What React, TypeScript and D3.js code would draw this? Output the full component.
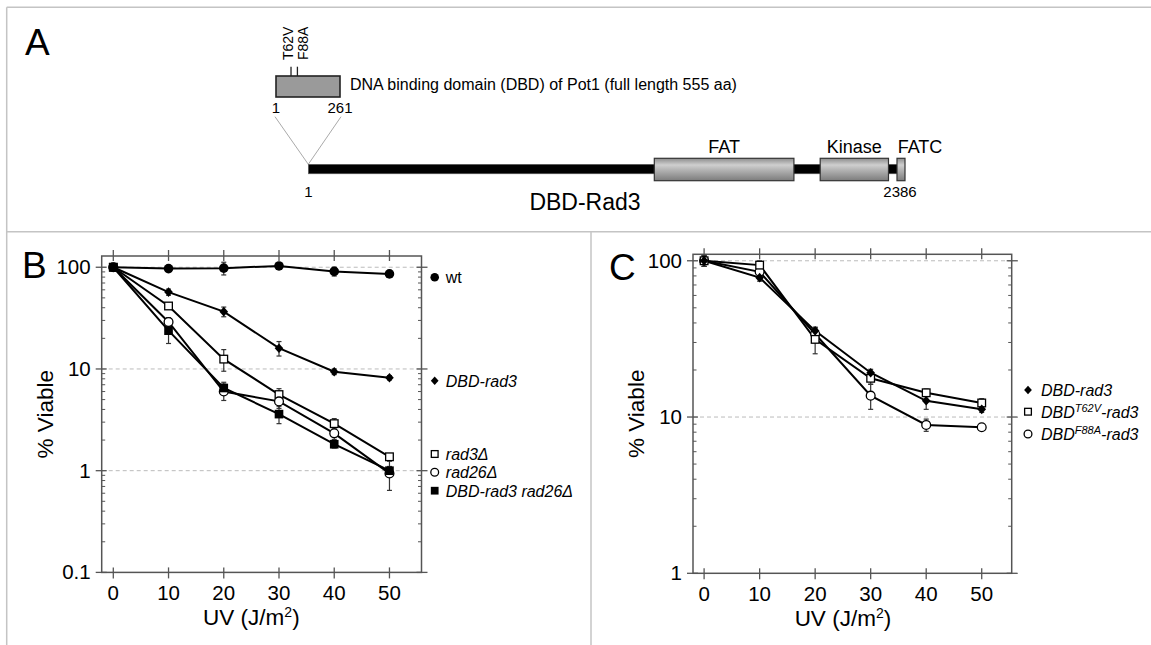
import React from 'react';
import { scaleLinear, scaleLog, line } from 'd3';

// ---- data ----
const doses = [0, 10, 20, 30, 40, 50];

// panel B
const wtB = [100, 97, 98, 103, 91, 86];
const dbdRad3B = [100, 57, 36.6, 16, 9.4, 8.2];
const rad3Del = [100, 41.6, 12.5, 5.6, 2.9, 1.37];
const rad26Del = [100, 29, 6.0, 4.8, 2.33, 0.94];
const dbdRad3Rad26 = [100, 23.8, 6.5, 3.6, 1.82, 1.0];
const wtErr = [0, 3, 14, 4, 9, 5];
const dbdRad3ErrB = [0, 4, 4, 2.6, 0.6, 0.4];
const rad3Err = [0, 3, 3, 0.8, 0.35, 0.1];
const rad26Err = [0, 3, 1.1, 0.7, 0.3, 0.3];
const dbdRad26Err = [0, 6, 0.9, 0.7, 0.15, 0.1];

// panel C
const dbdRad3C = [100, 78, 35.6, 19.2, 12.7, 11.2];
const t62vC = [100, 93.8, 31.4, 17.7, 14.3, 12.3];
const f88aC = [100, 85, 34, 13.7, 8.9, 8.6];
const dbdRad3ErrC = [8, 4, 2, 1, 1.5, 0.5];
const t62vErr = [8, 6, 6, 1.5, 0.8, 0.8];
const f88aErr = [8, 5, 3, 2.5, 0.8, 0.3];

const xTicks = [0, 10, 20, 30, 40, 50];
const yTicksB = [0.1, 1, 10, 100];
const yTicksC = [1, 10, 100];

// panel A (amino acid positions)
const dbdLength = 261;
const mutations = [{ name: 'T62V', pos: 62 }, { name: 'F88A', pos: 88 }];
const rad3Length = 2386;
const domains = [
  { name: 'FAT', start: 1384, end: 1942 },
  { name: 'Kinase', start: 2047, end: 2320 },
  { name: 'FATC', start: 2354, end: 2386 },
];

const FONT = "'Liberation Sans', Arial, Helvetica, sans-serif";

type Kind = 'circleFilled' | 'circleOpen' | 'diamond' | 'squareOpen' | 'squareFilled';

const Marker = ({ kind, x, y, s = 4.8 }: { kind: Kind; x: number; y: number; s?: number }) => {
  if (kind === 'circleFilled') return <circle cx={x} cy={y} r={s} fill="#000" />;
  if (kind === 'circleOpen') return <circle cx={x} cy={y} r={s - 0.4} fill="#fff" stroke="#000" strokeWidth={1.3} />;
  if (kind === 'diamond')
    return <path d={`M${x},${y - s}L${x + s * 0.9},${y}L${x},${y + s}L${x - s * 0.9},${y}Z`} fill="#000" />;
  const q = s * 0.9;
  if (kind === 'squareOpen')
    return <rect x={x - q + 0.5} y={y - q + 0.5} width={2 * q - 1} height={2 * q - 1} fill="#fff" stroke="#000" strokeWidth={1.3} />;
  return <rect x={x - q} y={y - q} width={2 * q} height={2 * q} fill="#000" />;
};

interface Series { vals: number[]; err: number[]; kind: Kind }

const LogPanel = ({ x, y, series, yTicks, grid, yLabelX }: any) => {
  const [x0, x1] = x.range();
  const [yb, yt] = y.range();
  const [d0, d1] = y.domain();
  const minors: number[] = [];
  for (let k = Math.floor(Math.log10(d0)); k < Math.ceil(Math.log10(d1)); k++) {
    for (let m = 2; m <= 9; m++) {
      const v = m * Math.pow(10, k);
      if (v > d0 && v < d1) minors.push(v);
    }
  }
  const gen = line<number>().x((_, i) => x(doses[i])).y((v) => y(v));
  const cx = (x(0) + x(50)) / 2;
  const axisCol = '#555';
  return (
    <g>
      {grid.map((v: number) => (
        <line key={'g' + v} x1={x0} x2={x1} y1={y(v)} y2={y(v)} stroke="#bbb" strokeDasharray="4 3" strokeWidth={1} />
      ))}
      <rect x={x0} y={yt} width={x1 - x0} height={yb - yt} fill="none" stroke={axisCol} strokeWidth={1.5} />
      {xTicks.map((t) => (
        <g key={'xt' + t}>
          <line x1={x(t)} x2={x(t)} y1={yt - 6} y2={yt + 5} stroke={axisCol} strokeWidth={1.3} />
          <line x1={x(t)} x2={x(t)} y1={yb - 5} y2={yb + 6} stroke={axisCol} strokeWidth={1.3} />
          <text x={x(t)} y={yb + 28} textAnchor="middle" fontSize={20.5} fontFamily={FONT}>{t}</text>
        </g>
      ))}
      {yTicks.map((t: number) => (
        <g key={'yt' + t}>
          <line x1={x0 - 6} x2={x0 + 5} y1={y(t)} y2={y(t)} stroke={axisCol} strokeWidth={1.3} />
          <line x1={x1 - 5} x2={x1 + 6} y1={y(t)} y2={y(t)} stroke={axisCol} strokeWidth={1.3} />
          <text x={x0 - 11} y={y(t) + 7} textAnchor="end" fontSize={20.5} fontFamily={FONT}>{t}</text>
        </g>
      ))}
      {minors.map((v) => (
        <g key={'m' + v}>
          <line x1={x0} x2={x0 + 3.5} y1={y(v)} y2={y(v)} stroke={axisCol} strokeWidth={1} />
          <line x1={x1 - 3.5} x2={x1} y1={y(v)} y2={y(v)} stroke={axisCol} strokeWidth={1} />
        </g>
      ))}
      <text transform={`translate(${yLabelX},${(yt + yb) / 2}) rotate(-90)`} textAnchor="middle" fontSize={22.5} fontFamily={FONT}>% Viable</text>
      <text x={cx} y={yb + 53} textAnchor="middle" fontSize={22.5} fontFamily={FONT}>
        UV (J/m<tspan fontSize={14} dy={-8}>2</tspan><tspan dy={8}>)</tspan>
      </text>
      {series.map((s: Series, i: number) => (
        <path key={'l' + i} d={gen(s.vals) || ''} fill="none" stroke="#000" strokeWidth={2} />
      ))}
      {series.map((s: Series, i: number) =>
        s.vals.map((v, j) => {
          const e = s.err[j];
          if (!e) return null;
          const lo = y(Math.max(v - e, d0));
          const hi = y(v + e);
          const px = x(doses[j]);
          return (
            <g key={'e' + i + '-' + j} stroke="#333" strokeWidth={1.2}>
              <line x1={px} x2={px} y1={lo} y2={hi} />
              <line x1={px - 2.5} x2={px + 2.5} y1={lo} y2={lo} />
              <line x1={px - 2.5} x2={px + 2.5} y1={hi} y2={hi} />
            </g>
          );
        })
      )}
      {series.map((s: Series, i: number) =>
        s.vals.map((v, j) => <Marker key={'p' + i + '-' + j} kind={s.kind} x={x(doses[j])} y={y(v)} />)
      )}
    </g>
  );
};

export default function App() {
  const xB = scaleLinear().domain([-2.1, 55.8]).range([101.7, 421.5]);
  const yB = scaleLog().domain([0.1, 129]).range([572.4, 256]);
  const xC = scaleLinear().domain([-2, 55.4]).range([693, 1011.7]);
  const yC = scaleLog().domain([1, 110]).range([573.3, 254.3]);

  const aaDbd = scaleLinear().domain([1, dbdLength]).range([276, 340]);
  const aaRad3 = scaleLinear().domain([1, rad3Length]).range([308.3, 905]);

  const seriesB: Series[] = [
    { vals: wtB, err: wtErr, kind: 'circleFilled' },
    { vals: dbdRad3B, err: dbdRad3ErrB, kind: 'diamond' },
    { vals: rad3Del, err: rad3Err, kind: 'squareOpen' },
    { vals: rad26Del, err: rad26Err, kind: 'circleOpen' },
    { vals: dbdRad3Rad26, err: dbdRad26Err, kind: 'squareFilled' },
  ];
  const seriesC: Series[] = [
    { vals: f88aC, err: f88aErr, kind: 'circleOpen' },
    { vals: t62vC, err: t62vErr, kind: 'squareOpen' },
    { vals: dbdRad3C, err: dbdRad3ErrC, kind: 'diamond' },
  ];

  const legendB: { kind: Kind; label: string; italic: boolean; y: number }[] = [
    { kind: 'circleFilled', label: 'wt', italic: false, y: 277.3 },
    { kind: 'diamond', label: 'DBD-rad3', italic: true, y: 380.7 },
    { kind: 'squareOpen', label: 'rad3Δ', italic: true, y: 454 },
    { kind: 'circleOpen', label: 'rad26Δ', italic: true, y: 472.3 },
    { kind: 'squareFilled', label: 'DBD-rad3 rad26Δ', italic: true, y: 490.7 },
  ];
  const legendC: { kind: Kind; pre: string; sup: string; post: string; y: number }[] = [
    { kind: 'diamond', pre: 'DBD-rad3', sup: '', post: '', y: 390 },
    { kind: 'squareOpen', pre: 'DBD', sup: 'T62V', post: '-rad3', y: 411.7 },
    { kind: 'circleOpen', pre: 'DBD', sup: 'F88A', post: '-rad3', y: 434 },
  ];

  const barY = 164.3;
  const barH = 9.5;
  const boxY = 158.3;
  const boxH = 22.4;

  return (
    <div style={{ position: 'absolute', left: 0, top: 0 }}>
      <svg width={1151} height={645} style={{ display: 'block', background: '#fff' }}>
        <defs>
          <linearGradient id="dom" x1="0" y1="0" x2="0" y2="1">
            <stop offset="0" stopColor="#8c8c8c" />
            <stop offset="0.3" stopColor="#cfcfcf" />
            <stop offset="0.55" stopColor="#b0b0b0" />
            <stop offset="1" stopColor="#7c7c7c" />
          </linearGradient>
        </defs>

        {/* frame */}
        <g stroke="#c4c4c4" strokeWidth={1.5} fill="none">
          <line x1={6.7} x2={1151} y1={7.3} y2={7.3} />
          <line x1={6.7} x2={6.7} y1={7.3} y2={645} />
          <line x1={6.7} x2={1151} y1={231.7} y2={231.7} />
          <line x1={591} x2={591} y1={231.7} y2={645} />
        </g>

        {/* panel A */}
        <text x={25} y={55} fontSize={37} fontFamily={FONT}>A</text>
        {mutations.map((m, i) => (
          <g key={m.name}>
            <line x1={aaDbd(m.pos)} x2={aaDbd(m.pos)} y1={66.7} y2={76} stroke="#222" strokeWidth={1.3} />
            <text transform={`translate(${293.3 + i * 15},60) rotate(-90)`} fontSize={14} fontFamily={FONT}>{m.name}</text>
          </g>
        ))}
        <rect x={aaDbd(1)} y={76} width={aaDbd(dbdLength) - aaDbd(1)} height={21} fill="#9a9a9a" stroke="#222" strokeWidth={1.6} />
        <text x={350} y={90} fontSize={16} fontFamily={FONT}>DNA binding domain (DBD) of Pot1 (full length 555 aa)</text>
        <text x={aaDbd(1)} y={113} textAnchor="middle" fontSize={15} fontFamily={FONT}>1</text>
        <text x={aaDbd(dbdLength)} y={113} textAnchor="middle" fontSize={15} fontFamily={FONT}>{dbdLength}</text>
        <line x1={aaDbd(1) - 1} y1={116.7} x2={aaRad3(1)} y2={barY} stroke="#aaa" strokeWidth={1} />
        <line x1={aaDbd(dbdLength) + 1} y1={116.7} x2={aaRad3(1)} y2={barY} stroke="#aaa" strokeWidth={1} />

        <rect x={aaRad3(1)} y={barY} width={aaRad3(rad3Length) - aaRad3(1) - 6} height={barH} fill="#000" stroke="#666" strokeWidth={0.6} />
        {domains.map((d) => (
          <g key={d.name}>
            <rect x={aaRad3(d.start)} y={boxY} width={aaRad3(d.end) - aaRad3(d.start)} height={boxH} fill="url(#dom)" stroke="#333" strokeWidth={1.2} />
            <text
              x={d.name === 'FATC' ? aaRad3(d.start) + 23 : (aaRad3(d.start) + aaRad3(d.end)) / 2}
              y={153}
              textAnchor="middle"
              fontSize={18}
              fontFamily={FONT}
            >
              {d.name}
            </text>
          </g>
        ))}
        <text x={aaRad3(1)} y={197} textAnchor="middle" fontSize={15} fontFamily={FONT}>1</text>
        <text x={aaRad3(rad3Length) - 5} y={197} textAnchor="middle" fontSize={15} fontFamily={FONT}>{rad3Length}</text>
        <text x={585} y={210} textAnchor="middle" fontSize={23} fontFamily={FONT}>DBD-Rad3</text>

        {/* panel B */}
        <text x={22} y={278} fontSize={37} fontFamily={FONT}>B</text>
        <LogPanel x={xB} y={yB} series={seriesB} yTicks={yTicksB} grid={[1, 10, 100]} yLabelX={53} />
        {legendB.map((l) => (
          <g key={l.label}>
            <Marker kind={l.kind} x={434.7} y={l.y} s={4.3} />
            <text x={445.8} y={l.y + 5.8} fontSize={16} fontStyle={l.italic ? 'italic' : 'normal'} fontFamily={FONT}>{l.label}</text>
          </g>
        ))}

        {/* panel C */}
        <text x={609} y={280} fontSize={37} fontFamily={FONT}>C</text>
        <LogPanel x={xC} y={yC} series={seriesC} yTicks={yTicksC} grid={[10, 100]} yLabelX={644} />
        {legendC.map((l) => (
          <g key={l.pre + l.sup}>
            <Marker kind={l.kind} x={1028} y={l.y} s={4.3} />
            <text x={1041} y={l.y + 5.8} fontSize={16} fontStyle="italic" fontFamily={FONT}>
              {l.pre}
              {l.sup ? <tspan fontSize={11} dy={-6}>{l.sup}</tspan> : null}
              {l.post ? <tspan dy={6}>{l.post}</tspan> : null}
            </text>
          </g>
        ))}
      </svg>
    </div>
  );
}
